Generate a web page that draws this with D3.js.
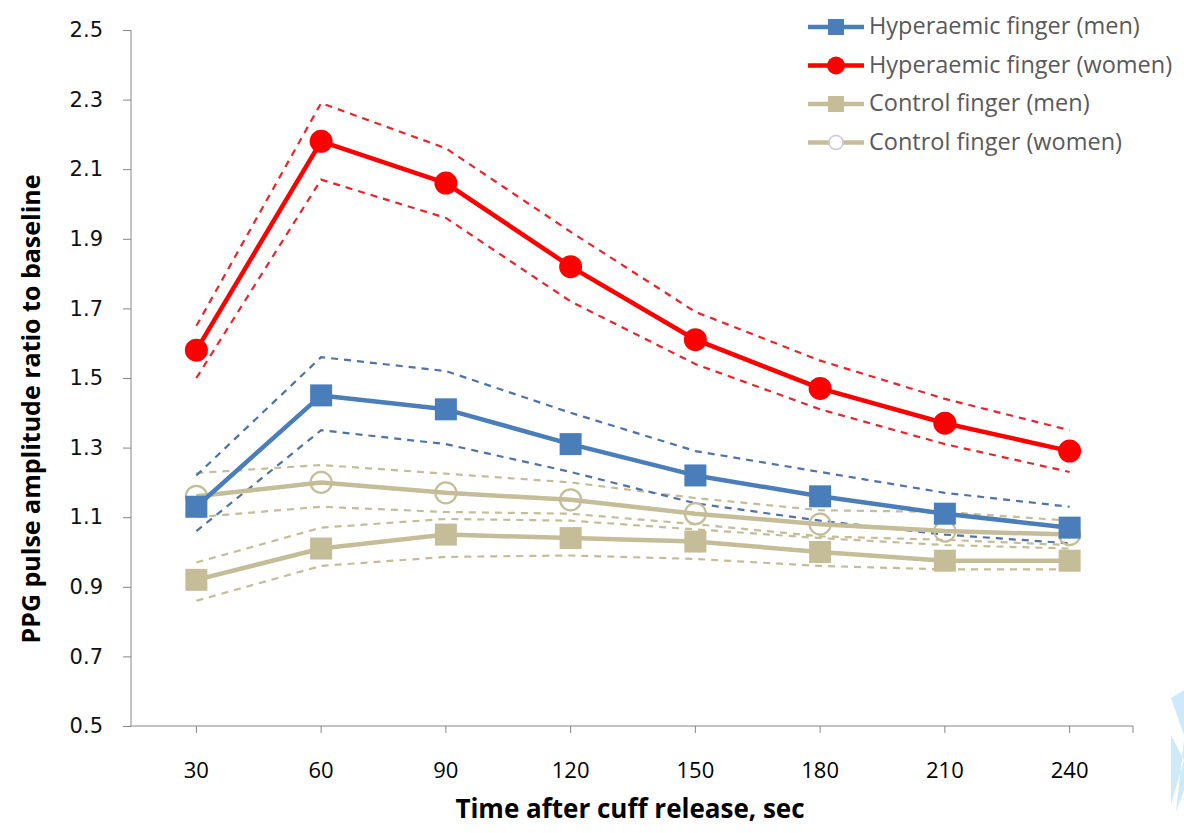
<!DOCTYPE html>
<html>
<head>
<meta charset="utf-8">
<script src="https://cdn.jsdelivr.net/npm/d3@7"></script>
<style>
  body { margin: 0; background: #fff; }
  svg { display: block; }
  .lbl { font-family: "Liberation Sans Narrow", "Open Sans", sans-serif; }
  .num { font-family: "DejaVu Sans", Verdana, sans-serif; }
</style>
</head>
<body>
<svg width="1184" height="833"></svg>
<script>
// categories (seconds after cuff release)
var times = [30, 60, 90, 120, 150, 180, 210, 240];
var yTicks = [0.5, 0.7, 0.9, 1.1, 1.3, 1.5, 1.7, 1.9, 2.1, 2.3, 2.5];

// means
var hypMen   = [1.13, 1.45, 1.41, 1.31, 1.22, 1.16, 1.11, 1.07];
var hypWomen = [1.58, 2.18, 2.06, 1.82, 1.61, 1.47, 1.37, 1.29];
var ctlMen   = [0.92, 1.01, 1.05, 1.04, 1.03, 1.00, 0.975, 0.975];
var ctlWomen = [1.16, 1.20, 1.17, 1.15, 1.11, 1.08, 1.06, 1.05];

// confidence bands (dashed)
var hypMenHi   = [1.22, 1.56, 1.52, 1.40, 1.29, 1.23, 1.17, 1.13];
var hypMenLo   = [1.06, 1.35, 1.31, 1.23, 1.14, 1.09, 1.05, 1.025];
var hypWomenHi = [1.65, 2.29, 2.16, 1.92, 1.69, 1.55, 1.44, 1.35];
var hypWomenLo = [1.50, 2.07, 1.96, 1.72, 1.54, 1.41, 1.31, 1.23];
var ctlWomenHi = [1.227, 1.25, 1.225, 1.20, 1.155, 1.12, 1.115, 1.09];
var ctlWomenLo = [1.10, 1.13, 1.115, 1.11, 1.08, 1.045, 1.035, 1.02];
var ctlMenHi   = [0.97, 1.07, 1.095, 1.09, 1.065, 1.04, 1.02, 1.01];
var ctlMenLo   = [0.86, 0.96, 0.986, 0.99, 0.98, 0.96, 0.95, 0.95];

var blue = "#4a7ebb", red = "#ff0000", tan = "#c4bd97";

var svg = d3.select("svg");

var x = d3.scaleBand().domain(times).range([134, 1132]);
var y = d3.scaleLinear().domain([0.5, 2.5]).range([726, 30]);
var cx = function (t) { return x(t) + x.bandwidth() / 2; };
var axisX = 131;

// axes
var axisColor = "#868686";
var gy = svg.append("g").attr("transform", "translate(" + axisX + ",0)")
    .call(d3.axisLeft(y).tickValues(yTicks).tickFormat(d3.format(".1f")).tickSize(8).tickPadding(20));
gy.select(".domain").attr("stroke", axisColor).attr("d", "M0," + y(0.5) + "V" + y(2.5));
gy.selectAll(".tick line").attr("stroke", axisColor);
gy.selectAll("text").attr("class", "num").attr("font-family", null)
    .attr("font-size", 21).attr("fill", "#111");

var gx = svg.append("g").attr("transform", "translate(0," + y(0.5) + ")");
gx.append("line").attr("x1", axisX).attr("x2", 1133).attr("stroke", axisColor);
gx.selectAll(".t").data(times.concat(["end"])).enter().append("line")
    .attr("x1", function (d) { return d === "end" ? 1133 : cx(d); })
    .attr("x2", function (d) { return d === "end" ? 1133 : cx(d); })
    .attr("y1", 0).attr("y2", 7).attr("stroke", axisColor);
gx.selectAll("text").data(times).enter().append("text")
    .attr("class", "lbl")
    .attr("x", cx).attr("y", 52)
    .attr("text-anchor", "middle").attr("font-size", 22).attr("fill", "#000")
    .text(function (d) { return d; });

// axis titles
svg.append("text").attr("class", "lbl")
    .attr("x", 630).attr("y", 818).attr("text-anchor", "middle")
    .attr("font-size", 26).attr("font-weight", "bold").text("Time after cuff release, sec");
svg.append("text").attr("class", "lbl")
    .attr("transform", "translate(40,409) rotate(-90)").attr("text-anchor", "middle")
    .attr("font-size", 25).attr("font-weight", "bold").text("PPG pulse amplitude ratio to baseline");

var line = d3.line().x(function (d, i) { return cx(times[i]); }).y(function (d) { return y(d); });

// dashed bands
var bands = [
  [ctlMenHi, tan], [ctlMenLo, tan], [ctlWomenHi, tan], [ctlWomenLo, tan],
  [hypMenHi, "#4f72a8"], [hypMenLo, "#4f72a8"],
  [hypWomenHi, "#e8252b"], [hypWomenLo, "#e8252b"]
];
svg.append("g").selectAll("path").data(bands).enter().append("path")
    .attr("d", function (d) { return line(d[0]); })
    .attr("fill", "none").attr("stroke", function (d) { return d[1]; })
    .attr("stroke-width", 2.2).attr("stroke-dasharray", "7,6");

// main series
var series = [
  { name: "Control finger (men)", vals: ctlMen, color: tan, marker: "square" },
  { name: "Control finger (women)", vals: ctlWomen, color: tan, marker: "open" },
  { name: "Hyperaemic finger (men)", vals: hypMen, color: blue, marker: "square" },
  { name: "Hyperaemic finger (women)", vals: hypWomen, color: red, marker: "circle" }
];

function drawMarker(g, m, color, px, py) {
  if (m === "square") {
    g.append("rect").attr("x", px - 11).attr("y", py - 11).attr("width", 22).attr("height", 22)
        .attr("fill", color);
  } else if (m === "circle") {
    g.append("circle").attr("cx", px).attr("cy", py).attr("r", 11.5).attr("fill", color);
  } else {
    g.append("circle").attr("cx", px).attr("cy", py).attr("r", 10.5)
        .attr("fill", "none").attr("stroke", color).attr("stroke-width", 2.2);
  }
}

series.forEach(function (s) {
  var g = svg.append("g");
  g.append("path").attr("d", line(s.vals)).attr("fill", "none")
      .attr("stroke", s.color).attr("stroke-width", 4.5).attr("stroke-linejoin", "round");
  s.vals.forEach(function (v, i) { drawMarker(g, s.marker, s.color, cx(times[i]), y(v)); });
});

// legend
var legendItems = [series[2], series[3], series[0], series[1]];
var lg = svg.append("g").attr("transform", "translate(808,27)");
legendItems.forEach(function (s, i) {
  var row = lg.append("g").attr("transform", "translate(0," + (i * 38.5) + ")");
  row.append("line").attr("x1", 0).attr("x2", 56).attr("stroke", s.color).attr("stroke-width", 4.5);
  if (s.marker === "open") {
    row.append("circle").attr("cx", 28).attr("cy", 0).attr("r", 7)
        .attr("fill", "#fff").attr("stroke", "#c9cbd6").attr("stroke-width", 1.5);
  } else if (s.marker === "circle") {
    row.append("circle").attr("cx", 28).attr("cy", 0).attr("r", 9).attr("fill", s.color);
  } else {
    row.append("rect").attr("x", 20).attr("y", -8).attr("width", 16).attr("height", 16).attr("fill", s.color);
  }
  row.append("text").attr("class", "lbl").attr("x", 61).attr("y", 7)
      .attr("font-size", 23.5).attr("fill", "#595959").text(s.name);
});

// corner decoration
svg.append("path")
    .attr("d", "M1171,698 L1184,690 L1184,735 Z M1184,740 L1176,812 L1184,790 Z M1171,735 L1184,760 L1171,805 Z")
    .attr("fill", "#cdeaf8");
</script>
</body>
</html>
